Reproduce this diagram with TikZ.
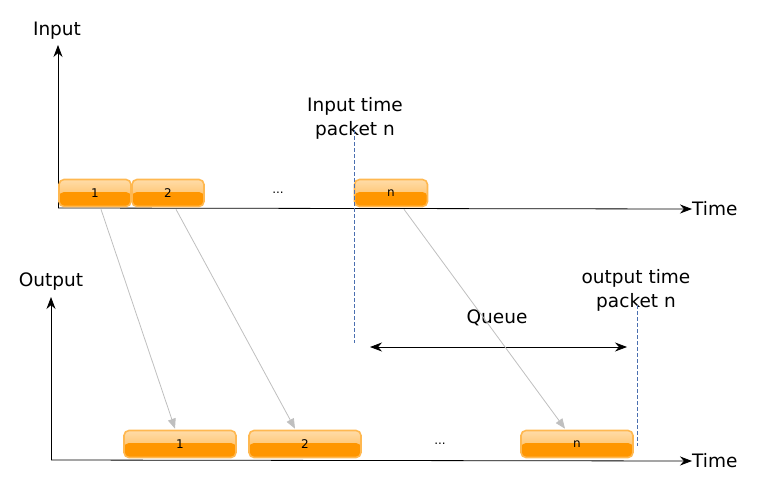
\documentclass[tikz,border=0pt]{standalone}
\usepackage{fontspec}
\setmainfont{DejaVu Sans}
\usetikzlibrary{arrows.meta, positioning}

\definecolor{pktdark}{HTML}{FF9600}
\definecolor{pktlight}{HTML}{FFDCA8}
\definecolor{pktedge}{HTML}{FFB850}
\definecolor{markblue}{HTML}{4A6FB0}

\begin{document}
\begin{tikzpicture}[
  x=1pt, y=-1pt,
  lbl/.style={font=\fontsize{18.5}{24}\selectfont, align=center, inner sep=0pt},
  packet/.style={draw=pktedge, line width=1.6pt, rounded corners=5pt, minimum height=27pt,
    inner sep=0pt, font=\fontsize{12}{14}\selectfont, top color=pktlight, bottom color=pktdark!70,
    path picture={\fill[pktdark] ([yshift=1pt]path picture bounding box.west) rectangle (path picture bounding box.south east);}},
  axis/.style={-{Stealth[length=12pt,width=9pt]}, line width=0.8pt},
  travel/.style={-{Triangle[length=10pt,width=8pt]}, draw=black!25, line width=0.8pt},
  timeline/.style={draw=markblue, line width=0.6pt, dash pattern=on 4pt off 2pt}
]
\useasboundingbox (0,0) rectangle (759,492);

% input axis
\coordinate (o1) at (58,208);
\node[lbl] (inlbl) at (57,31) {Input};
\node[lbl, anchor=west] (time1) at (692,209) {Time};
\draw[axis] (o1) -- (58,45);
\draw[axis] (o1) -- (time1.west);

% output axis
\coordinate (o2) at (51,460);
\node[lbl] (outlbl) at (51,282) {Output};
\node[lbl, anchor=west] (time2) at (692,461) {Time};
\draw[axis] (o2) -- (51,297);
\draw[axis] (o2) -- (time2.west);

% input packets
\node[packet, minimum width=72pt] (t1) at (95,193) {1};
\node[packet, minimum width=72pt] (t2) at (168,193) {2};
\node[font=\fontsize{12}{14}\selectfont] (tdots) at (278,193) {...};
\node[packet, minimum width=73pt] (tn) at (391,193) {n};

% output packets
\node[packet, minimum width=112pt] (b1) at (180,444) {1};
\node[packet, minimum width=112pt] (b2) at (305,444) {2};
\node[font=\fontsize{12}{14}\selectfont] (bdots) at (440,444) {...};
\node[packet, minimum width=112pt] (bn) at (577,444) {n};

% arrival / departure of packet n
\node[lbl] (intime) at (355,118) {Input time\\packet n};
\node[lbl] (outtime) at (636,290) {output time\\packet n};
\coordinate (intop) at (354,130);
\coordinate (inbot) at (354,343);
\coordinate (outtop) at (637,305);
\coordinate (outbot) at (637,446);
\draw[timeline] (intop) -- (inbot);
\draw[timeline] (outtop) -- (outbot);

% queue
\coordinate (qa) at (370,347);
\coordinate (qb) at (627,347);
\node[lbl] (queue) at (497,318) {Queue};
\draw[{Stealth[length=12pt,width=9pt]}-{Stealth[length=12pt,width=9pt]}, line width=0.8pt] (qa) -- (qb);

% packets travelling
\draw[travel] ([xshift=6pt,yshift=-2pt]t1.south) -- ([xshift=-5pt,yshift=1pt]b1.north);
\draw[travel] ([xshift=8pt,yshift=-2pt]t2.south) -- ([xshift=-10pt,yshift=1pt]b2.north);
\draw[travel] ([xshift=13pt,yshift=-2pt]tn.south) -- ([xshift=-12pt,yshift=1pt]bn.north);
\end{tikzpicture}
\end{document}
